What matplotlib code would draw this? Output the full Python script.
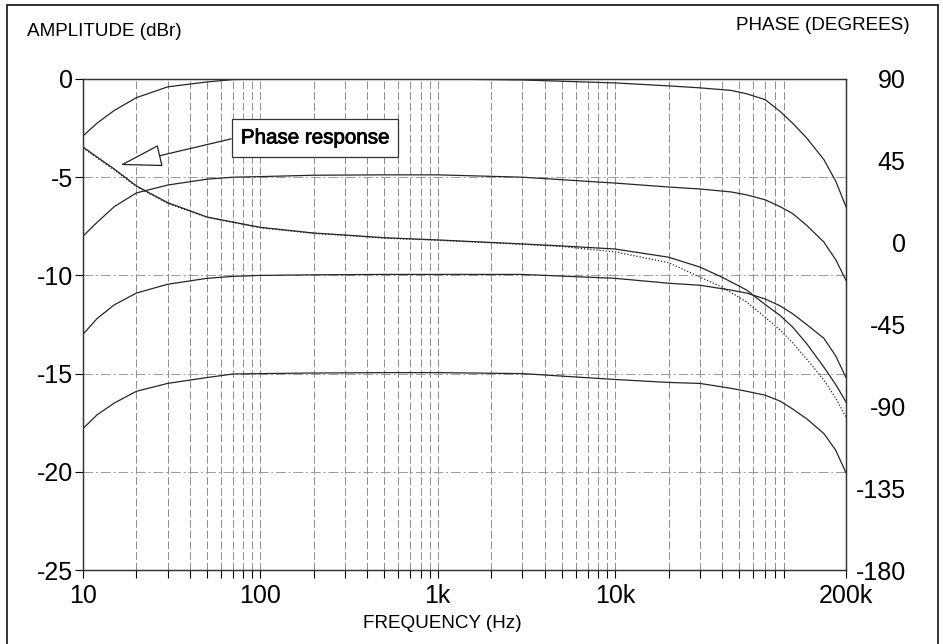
import numpy as np
import matplotlib
matplotlib.use("Agg")
from matplotlib import pyplot as plt
from matplotlib import ticker
from matplotlib import patheffects
from matplotlib.patches import Rectangle

plt.rcParams['font.family'] = ['Liberation Sans', 'DejaVu Sans']

# amplitude curves (dBr)
f_amp = [10, 12, 15, 20, 30, 50, 70, 100, 200, 500, 1000, 3000, 10000, 20000, 30000,
         45000, 55000, 70000, 85000, 100000, 120000, 150000, 175000, 200000]
amp_0 = [-2.9, -2.25, -1.6, -0.95, -0.4, -0.15, -0.03, 0.0, 0.0, 0.0, 0.0, -0.05, -0.2, -0.35, -0.45,
         -0.58, -0.75, -1.05, -1.65, -2.25, -3.0, -4.1, -5.2, -6.5]
amp_5 = [-8.0, -7.3, -6.5, -5.8, -5.4, -5.1, -5.0, -4.97, -4.9, -4.88, -4.88, -5.0, -5.3, -5.5, -5.6,
         -5.75, -5.9, -6.15, -6.5, -6.85, -7.45, -8.3, -9.2, -10.25]
amp_10 = [-13.0, -12.2, -11.5, -10.9, -10.45, -10.15, -10.05, -10.0, -9.97, -9.95, -9.95, -9.95, -10.15, -10.4, -10.5,
          -10.75, -10.9, -11.2, -11.55, -11.95, -12.5, -13.2, -14.1, -15.2]
amp_15 = [-17.8, -17.1, -16.5, -15.9, -15.5, -15.2, -15.02, -15.0, -14.97, -14.95, -14.95, -15.0, -15.3, -15.45, -15.5,
          -15.75, -15.9, -16.1, -16.4, -16.8, -17.3, -18.05, -18.9, -20.05]

# phase curves (degrees)
f_ph = [10, 12, 15, 20, 30, 50, 100, 200, 300, 500, 1000, 3000, 5000, 10000, 20000, 30000,
        40000, 55000, 70000, 85000, 100000, 120000, 150000, 175000, 200000]
phase = [52.6, 47.1, 40.5, 31.2, 22.0, 14.1, 8.4, 5.3, 4.2, 2.7, 1.5, -0.7, -1.8, -3.5, -8.0, -13.4,
         -19.0, -26.0, -34.0, -40.0, -46.4, -55.5, -68.4, -78.0, -87.6]
phase_dot = [52.1, 46.6, 40.0, 30.8, 21.6, 13.9, 8.2, 5.1, 4.0, 2.5, 1.3, -0.9, -2.1, -5.1, -11.0, -18.9,
             -24.4, -32.6, -41.0, -48.0, -55.0, -64.0, -75.5, -85.5, -95.9]

x_ticks = [10, 100, 1000, 10000, 200000]
x_labels = ['10', '100', '1k', '10k', '200k']
amp_ticks = [0, -5, -10, -15, -20, -25]
ph_ticks = [90, 45, 0, -45, -90, -135, -180]

fig = plt.figure(figsize=(9.43, 6.44), dpi=100)
ax = fig.add_axes([83/943, 1-570/644, (846-83)/943, (570-79)/644])
ax2 = ax.twinx()

lc = '#262626'
for a in [amp_0, amp_5, amp_10, amp_15]:
    ax.plot(f_amp, a, color=lc, lw=0.9)
ax2.plot(f_ph, phase, color=lc, lw=0.9)
ax2.plot(f_ph, phase_dot, color=lc, lw=0.9, ls=(0, (1, 1.5)))

ax.set_xscale('log')
ax.set_xlim(10, 200000)
ax.set_ylim(-25, 0)
ax2.set_ylim(-180, 90)

ax.set_xticks(x_ticks)
ax.set_xticklabels(x_labels)
minor = [m * 10**e for e in range(1, 6) for m in range(2, 10) if m * 10**e < 200000]
ax.set_xticks(minor, minor=True)
ax.xaxis.set_minor_formatter(ticker.NullFormatter())
ax.set_yticks(amp_ticks)
ax.set_yticklabels([str(v) for v in amp_ticks])
ax2.set_yticks(ph_ticks)
ax2.set_yticklabels([str(v) for v in ph_ticks])

ax.tick_params(axis='x', which='both', direction='out', length=6, width=0.8, labelsize=18, pad=4)
ax.tick_params(axis='y', direction='out', length=6, width=0.8, labelsize=18, pad=1)
ax2.tick_params(axis='y', length=0, labelsize=18, pad=43)
for lab in ax2.get_yticklabels():
    lab.set_horizontalalignment('right')

# grid
ax.grid(True, axis='x', which='both', color='#8c8c8c', lw=0.7, ls=(0, (8, 3)))
ax.grid(True, axis='y', which='major', color='#9a9a9a', lw=0.7, ls=(0, (10, 3, 2, 3)))
ax.set_axisbelow(True)

for sp in list(ax.spines.values()) + list(ax2.spines.values()):
    sp.set_linewidth(0.9)
    sp.set_color('#333333')

fig.text(27/943, 1-31/644, 'AMPLITUDE (dBr)', fontsize=13.6, va='center', ha='left')
fig.text(910/943, 1-25/644, 'PHASE (DEGREES)', fontsize=13.6, va='center', ha='right')
fig.text(442/943, 1-624/644, 'FREQUENCY (Hz)', fontsize=13.6, va='center', ha='center')

# annotation
ann = ax.annotate('Phase response', xy=(16.2, -4.38), xytext=(203, -3.0),
                  fontsize=14.8, ha='center', va='center',
                  bbox=dict(boxstyle='square,pad=0.45', fc='white', ec='#333333', lw=0.9),
                  arrowprops=dict(arrowstyle='-|>,head_length=1.37,head_width=0.36',
                                  fc='white', ec='#222222', lw=0.9, mutation_scale=20,
                                  shrinkA=0, shrinkB=0, relpos=(0, 0.57)))
ann.set_path_effects([patheffects.withStroke(linewidth=0.6, foreground='black')])

# outer frame
fig.add_artist(Rectangle((7/943, -0.05), (938-7)/943, 1.05 - 5/644,
                         transform=fig.transFigure, fill=False, ec='#222222', lw=1.3))

fig.savefig('out.png', dpi=100)
